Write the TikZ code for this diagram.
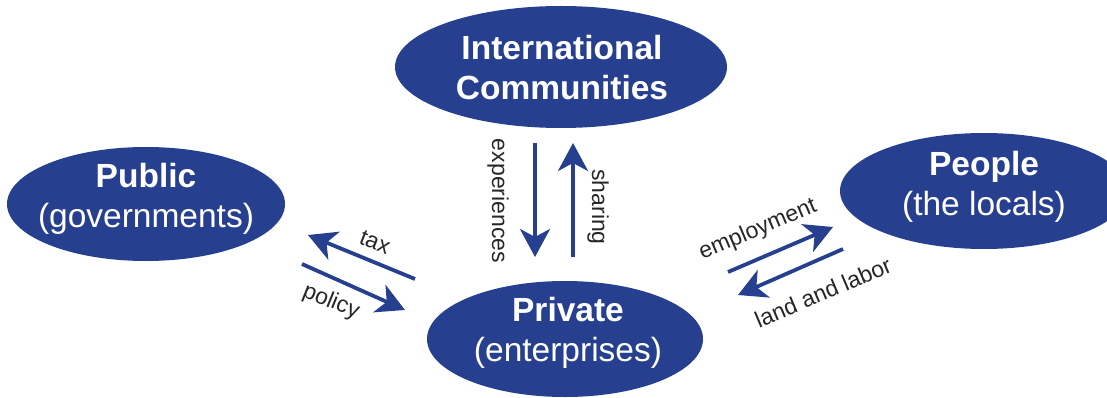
\documentclass[tikz,border=0pt]{standalone}
\usepackage{fontspec}
\setmainfont{Liberation Sans}
\usetikzlibrary{shapes.geometric,arrows.meta}
\definecolor{navy}{RGB}{38,64,143}
\begin{document}
\begin{tikzpicture}[x=1pt,y=-1pt,
  blob/.style={ellipse, fill=navy, draw=none, inner sep=0pt},
  title/.style={text=white, align=center, inner sep=0pt,
    font=\fontsize{33.5}{40}\selectfont},
  flow/.style={draw=navy, line width=3.8pt,
    -{Stealth[length=28pt,width=30pt,inset=8pt]}},
  tag/.style={text=black!85, inner sep=0pt,
    font=\fontsize{23}{27}\selectfont}]
\useasboundingbox (0,0) rectangle (1107,398);

% the four actors
\node[blob, minimum width=278pt, minimum height=114pt] (pub)  at (146,204) {};
\node[blob, minimum width=332pt, minimum height=122pt] (intl) at (561,67)  {};
\node[blob, minimum width=288pt, minimum height=116pt] (ppl)  at (984,191) {};
\node[blob, minimum width=276pt, minimum height=116pt] (priv) at (565,339) {};

\node[title] (pubtxt)  at (146,199) {\textbf{Public}\\(governments)};
\node[title] (intltxt) at (562,68)  {\textbf{International}\\\textbf{Communities}};
\node[title] (ppltxt)  at (984,187) {\textbf{People}\\(the locals)};
\node[title] (privtxt) at (568,333) {\textbf{Private}\\(enterprises)};

% end points of the exchange arrows
\coordinate (taxS) at (415,279); \coordinate (taxE) at (308,235);
\coordinate (polS) at (302,264); \coordinate (polE) at (405,310);
\coordinate (expS) at (535,143); \coordinate (expE) at (535,257);
\coordinate (shaS) at (573,257); \coordinate (shaE) at (573,143);
\coordinate (empS) at (728,272); \coordinate (empE) at (833,227);
\coordinate (lanS) at (843,249); \coordinate (lanE) at (738,295);

\draw[flow] (taxS) -- (taxE);
\draw[flow] (polS) -- (polE);
\draw[flow] (expS) -- (expE);
\draw[flow] (shaS) -- (shaE);
\draw[flow] (empS) -- (empE);
\draw[flow] (lanS) -- (lanE);

% arrow labels
\node[tag, rotate=-22] (taxlbl) at (375,242) {tax};
\node[tag, rotate=-22] (pollbl) at (331,302) {policy};
\node[tag, rotate=-90] (explbl) at (498,201) {experiences};
\node[tag, rotate=-90] (shalbl) at (598,207) {sharing};
\node[tag, rotate=23]  (emplbl) at (758,230) {employment};
\node[tag, rotate=23]  (lanlbl) at (823,292) {land and labor};
\end{tikzpicture}
\end{document}
